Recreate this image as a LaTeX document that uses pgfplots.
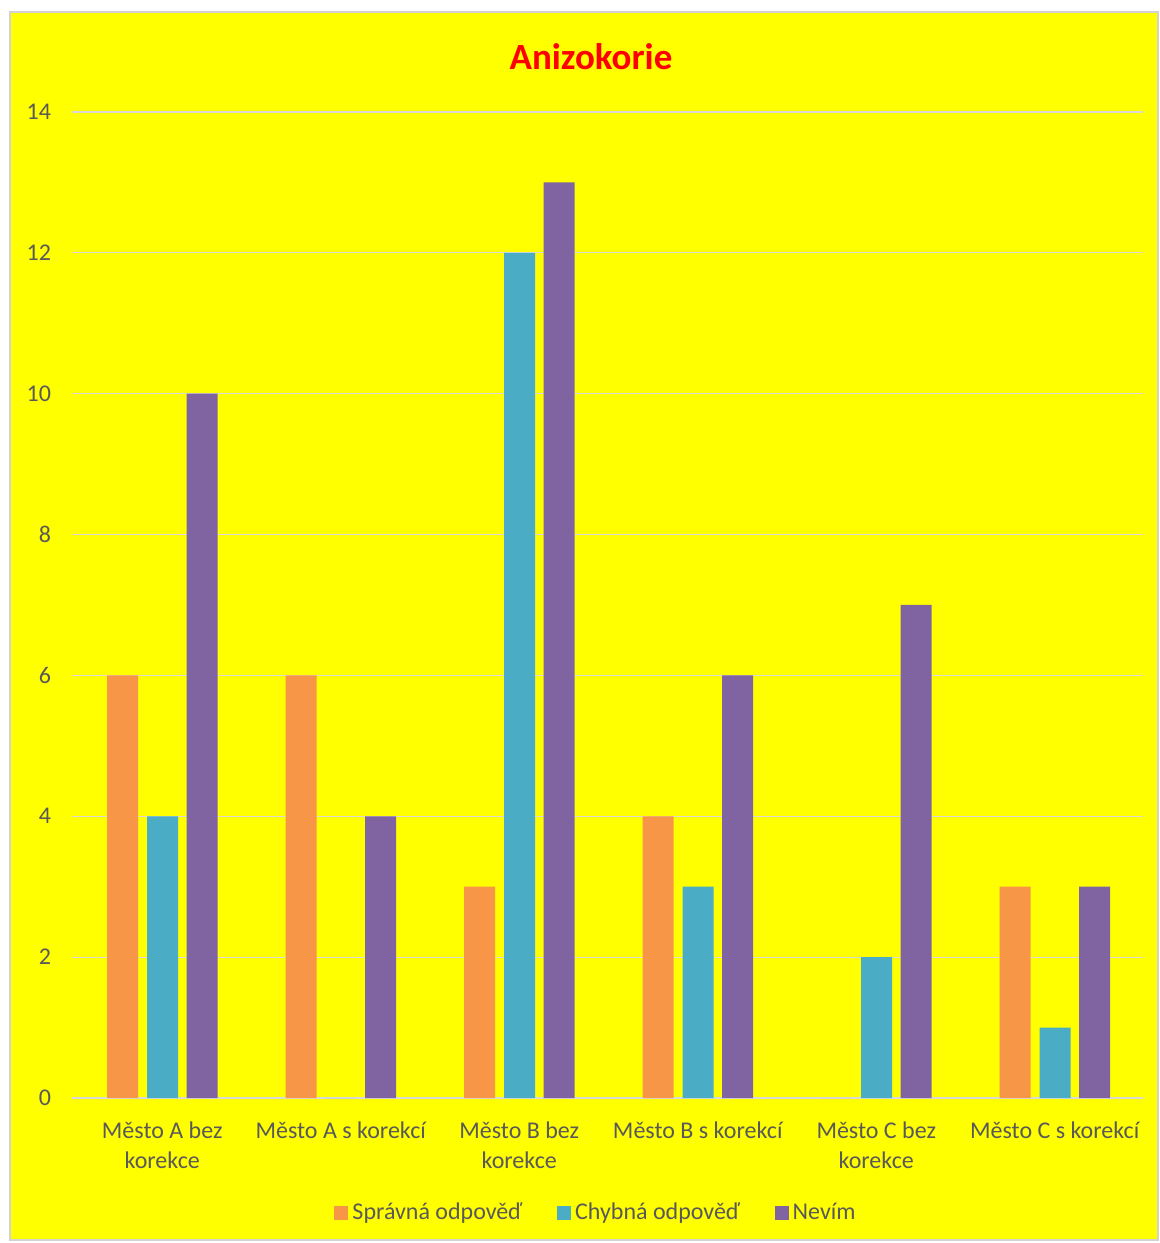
\documentclass[border=0pt]{standalone}
\usepackage{pgfplots}
\pgfplotsset{compat=1.18}
\usepackage{fontspec}
\setmainfont{Carlito}

\definecolor{bgyellow}{HTML}{FFFF00}
\definecolor{sorange}{HTML}{F79646}
\definecolor{steal}{HTML}{4BACC6}
\definecolor{spurple}{HTML}{8064A2}
\definecolor{gridgray}{HTML}{D9D9D9}
\definecolor{labelgray}{HTML}{595959}

\begin{document}
\begin{tikzpicture}
% page extent and chart background
\path[use as bounding box] (-36pt,-72.5pt) rectangle (544pt,549pt);
\fill[white] (-36pt,-72.5pt) rectangle (544pt,549pt);
\filldraw[fill=bgyellow, draw=gray!35, line width=0.6pt] (-31pt,-71pt) rectangle (543pt,543pt);

\begin{axis}[
  at={(0pt,0pt)}, anchor=south west,
  scale only axis,
  width=535.5pt, height=493pt,
  ybar=4.25pt, bar width=15.5pt,
  xmin=-0.5, xmax=5.5,
  ymin=0, ymax=14,
  ytick={0,2,...,14},
  xtick=data,
  xticklabels={{Město A bez\\korekce},{Město A s korekcí},{Město B bez\\korekce},{Město B s korekcí},{Město C bez\\korekce},{Město C s korekcí}},
  xticklabel style={align=center, font=\fontsize{12}{15}\selectfont, text=labelgray, yshift=-8.5pt, xshift=0.5pt},
  yticklabel style={font=\fontsize{12}{14}\selectfont, text=labelgray, xshift=-7pt},
  /pgf/number format/assume math mode=true,
  major tick length=0pt,
  axis x line*=bottom,
  axis y line*=left,
  y axis line style={draw=none},
  x axis line style={draw=gridgray, line width=0.7pt},
  ymajorgrids,
  grid style={draw=gridgray, line width=0.6pt},
  legend style={
    at={(262.5pt,-57.5pt)}, anchor=center,
    draw=none, fill=none,
    legend columns=3,
    font=\fontsize{12}{14}\selectfont,
    text=labelgray,
    /tikz/every even column/.append style={column sep=15.5pt},
  },
  legend image code/.code={\fill[#1,draw=none] (0pt,-3.5pt) rectangle (7pt,3.5pt);},
  legend cell align=left,
]
\addplot[fill=sorange, draw=none, bar shift=-19.25pt] coordinates {(0,6) (1,6) (2,3) (3,4) (4,0) (5,3)};
\addplot[fill=steal, draw=none, bar shift=0.75pt] coordinates {(0,4) (1,0) (2,12) (3,3) (4,2) (5,1)};
\addplot[fill=spurple, draw=none, bar shift=20.5pt] coordinates {(0,10) (1,4) (2,13) (3,6) (4,7) (5,3)};
\legend{Správná odpověď, Chybná odpověď, Nevím}
\end{axis}

\node[font=\fontsize{18.5}{22}\selectfont\bfseries, text=red] at (259.5pt,520.5pt) {Anizokorie};
\end{tikzpicture}
\end{document}
